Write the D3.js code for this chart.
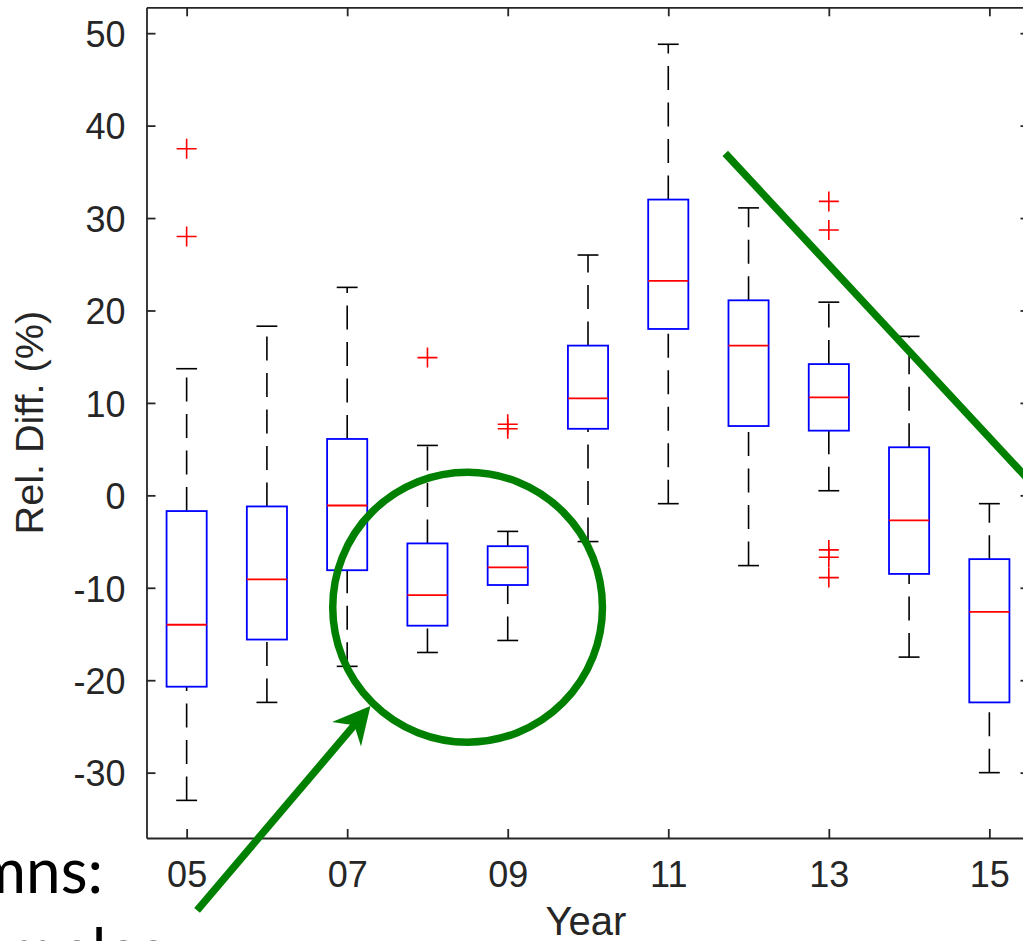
<!DOCTYPE html>
<html>
<head>
<meta charset="utf-8">
<script src="https://cdn.jsdelivr.net/npm/d3@7"></script>
<style>
  html, body { margin: 0; padding: 0; background: #fff; overflow: hidden; }
  svg { display: block; }
</style>
</head>
<body>
<svg id="chart"></svg>
<script>
// boxplot stats per year
const years = [5, 6, 7, 8, 9, 10, 11, 12, 13, 14, 15];
const tickYears = [5, 7, 9, 11, 13, 15];
const yTicks = [-30, -20, -10, 0, 10, 20, 30, 40, 50];
const whiskerLow  = [-33.0, -22.4, -18.5, -17.0, -15.7, -5.0, -0.9, -7.6, 0.5, -17.5, -30.0];
const q1          = [-20.7, -15.6, -8.1, -14.1, -9.7, 7.2, 18.0, 7.5, 7.0, -8.5, -22.4];
const median      = [-14.0, -9.1, -1.1, -10.8, -7.8, 10.5, 23.2, 16.2, 10.6, -2.7, -12.6];
const q3          = [-1.7, -1.2, 6.1, -5.2, -5.5, 16.2, 32.0, 21.1, 14.2, 5.2, -6.9];
const whiskerHigh = [13.7, 18.3, 22.5, 5.4, -3.9, 26.0, 48.8, 31.1, 20.9, 17.2, -0.9];
const outliers = [
  [37.5, 28.0], [], [], [14.9], [7.7, 7.2], [], [], [],
  [31.8, 28.7, -5.9, -6.7, -8.9], [], []
];

const width = 1023, height = 941;
const svg = d3.select("#chart").attr("width", width).attr("height", height);

const x = d3.scaleLinear().domain([4.5, 15.5]).range([146.5, 1029.5]);
const y = d3.scaleLinear().domain([-37.07, 52.8]).range([838, 7.3]);

const axisColor = "#262626";
const font = "'Liberation Sans', Arial, sans-serif";

const boxes = years.map((yr, i) => ({
  yr, lo: whiskerLow[i], q1: q1[i], med: median[i], q3: q3[i], hi: whiskerHigh[i], out: outliers[i]
}));

const bw = x(5.25) - x(4.75);
const cw = x(5.13) - x(4.87);

const g = svg.append("g");

// whiskers, drawn from low end upward so the dash pattern starts there (like matlab)
const dash = "24,12.5";
g.selectAll(".wUp").data(boxes).join("line")
  .attr("x1", d => x(d.yr)).attr("x2", d => x(d.yr))
  .attr("y1", d => y(d.q3)).attr("y2", d => y(d.hi))
  .attr("stroke", "#000").attr("stroke-width", 1.6).attr("stroke-dasharray", dash);
g.selectAll(".wDn").data(boxes).join("line")
  .attr("x1", d => x(d.yr)).attr("x2", d => x(d.yr))
  .attr("y1", d => y(d.lo)).attr("y2", d => y(d.q1))
  .attr("stroke", "#000").attr("stroke-width", 1.6).attr("stroke-dasharray", dash);

// caps
["lo", "hi"].forEach(k => {
  g.selectAll(".cap" + k).data(boxes).join("line")
    .attr("x1", d => x(d.yr) - cw / 2).attr("x2", d => x(d.yr) + cw / 2)
    .attr("y1", d => y(d[k])).attr("y2", d => y(d[k]))
    .attr("stroke", "#000").attr("stroke-width", 1.6);
});

// boxes
g.selectAll(".box").data(boxes).join("rect")
  .attr("x", d => x(d.yr) - bw / 2)
  .attr("width", bw)
  .attr("y", d => y(d.q3))
  .attr("height", d => y(d.q1) - y(d.q3))
  .attr("fill", "none").attr("stroke", "#0000ff").attr("stroke-width", 1.8);

// medians
g.selectAll(".med").data(boxes).join("line")
  .attr("x1", d => x(d.yr) - bw / 2).attr("x2", d => x(d.yr) + bw / 2)
  .attr("y1", d => y(d.med)).attr("y2", d => y(d.med))
  .attr("stroke", "#ff0000").attr("stroke-width", 1.8);

// outliers as '+'
const pts = boxes.flatMap(d => d.out.map(v => ({ yr: d.yr, v })));
const s = 10;
g.selectAll(".out").data(pts).join("path")
  .attr("d", d => `M${x(d.yr) - s},${y(d.v)}H${x(d.yr) + s}M${x(d.yr)},${y(d.v) - s}V${y(d.v) + s}`)
  .attr("stroke", "#ff0000").attr("stroke-width", 1.6).attr("fill", "none");

// axes (ticks inside, box around)
function styleAxis(sel) {
  sel.attr("font-family", font).attr("font-size", 36);
  sel.selectAll("path, line").attr("stroke", axisColor).attr("stroke-width", 1.8);
  sel.selectAll("text").attr("fill", axisColor);
}

svg.append("g").attr("transform", `translate(${x.range()[0]},0)`)
  .call(d3.axisLeft(y).tickValues(yTicks).tickFormat(d => String(d))
    .tickSize(-9).tickSizeOuter(0).tickPadding(21))
  .call(styleAxis)
  .selectAll("text").attr("dy", "0.37em");

svg.append("g").attr("transform", `translate(0,${y.range()[0]})`)
  .call(d3.axisBottom(x).tickValues(tickYears).tickFormat(d3.format("02d"))
    .tickSize(-9).tickSizeOuter(0).tickPadding(23))
  .call(styleAxis);

svg.append("g").attr("transform", `translate(0,${y.range()[1]})`)
  .call(d3.axisTop(x).tickValues(tickYears).tickFormat("").tickSize(-9).tickSizeOuter(0))
  .call(styleAxis);

svg.append("g").attr("transform", `translate(${x.range()[1]},0)`)
  .call(d3.axisRight(y).tickValues(yTicks).tickFormat("").tickSize(-9).tickSizeOuter(0))
  .call(styleAxis);

// axis labels
svg.append("text")
  .attr("x", (x.range()[0] + x.range()[1]) / 2 - 2).attr("y", 935)
  .attr("text-anchor", "middle").attr("font-family", font).attr("font-size", 40)
  .attr("fill", axisColor).text("Year");

svg.append("text")
  .attr("transform", `translate(43,${(y.range()[0] + y.range()[1]) / 2}) rotate(-90)`)
  .attr("text-anchor", "middle").attr("font-family", font).attr("font-size", 39.6)
  .attr("fill", axisColor).text("Rel. Diff. (%)");

// slide text behind the figure (cut off at the left edge)
svg.append("text").attr("x", 103).attr("y", 893).attr("text-anchor", "end")
  .attr("font-family", "Lato, 'Open Sans', sans-serif").attr("font-size", 62)
  .attr("fill", "#000").text("Columns:");
svg.append("text").attr("x", 166).attr("y", 973).attr("text-anchor", "end")
  .attr("font-family", "Lato, 'Open Sans', sans-serif").attr("font-size", 62)
  .attr("fill", "#000").text("examples");

// green annotations, placed in data units
const green = "#008000";
const circ = { cx: 8.5, cy: -12.1, rx: 1.68, ry: 14.6 };
svg.append("ellipse")
  .attr("cx", x(circ.cx)).attr("cy", y(circ.cy))
  .attr("rx", x(circ.cx + circ.rx) - x(circ.cx))
  .attr("ry", y(circ.cy - circ.ry) - y(circ.cy))
  .attr("fill", "none").attr("stroke", green).attr("stroke-width", 7.5);

const trend = [[11.71, 37.0], [15.7, -0.3]];
svg.append("line")
  .attr("x1", x(trend[0][0])).attr("y1", y(trend[0][1]))
  .attr("x2", x(trend[1][0])).attr("y2", y(trend[1][1]))
  .attr("stroke", green).attr("stroke-width", 7.5);

const arrow = [[5.13, -44.9], [7.29, -22.8]];
const ax0 = x(arrow[0][0]), ay0 = y(arrow[0][1]);
const ax1 = x(arrow[1][0]), ay1 = y(arrow[1][1]);
const len = Math.hypot(ax1 - ax0, ay1 - ay0);
const ux = (ax1 - ax0) / len, uy = (ay1 - ay0) / len;
const nx = -uy, ny = ux;
const headL = 37, headW = 19, notch = 25;
svg.append("line")
  .attr("x1", ax0).attr("y1", ay0)
  .attr("x2", ax1 - ux * notch).attr("y2", ay1 - uy * notch)
  .attr("stroke", green).attr("stroke-width", 7.5);
const head = [
  [ax1, ay1],
  [ax1 - ux * headL + nx * headW, ay1 - uy * headL + ny * headW],
  [ax1 - ux * notch, ay1 - uy * notch],
  [ax1 - ux * headL - nx * headW, ay1 - uy * headL - ny * headW]
];
svg.append("path").attr("d", d3.line()(head) + "Z").attr("fill", green);
</script>
</body>
</html>
